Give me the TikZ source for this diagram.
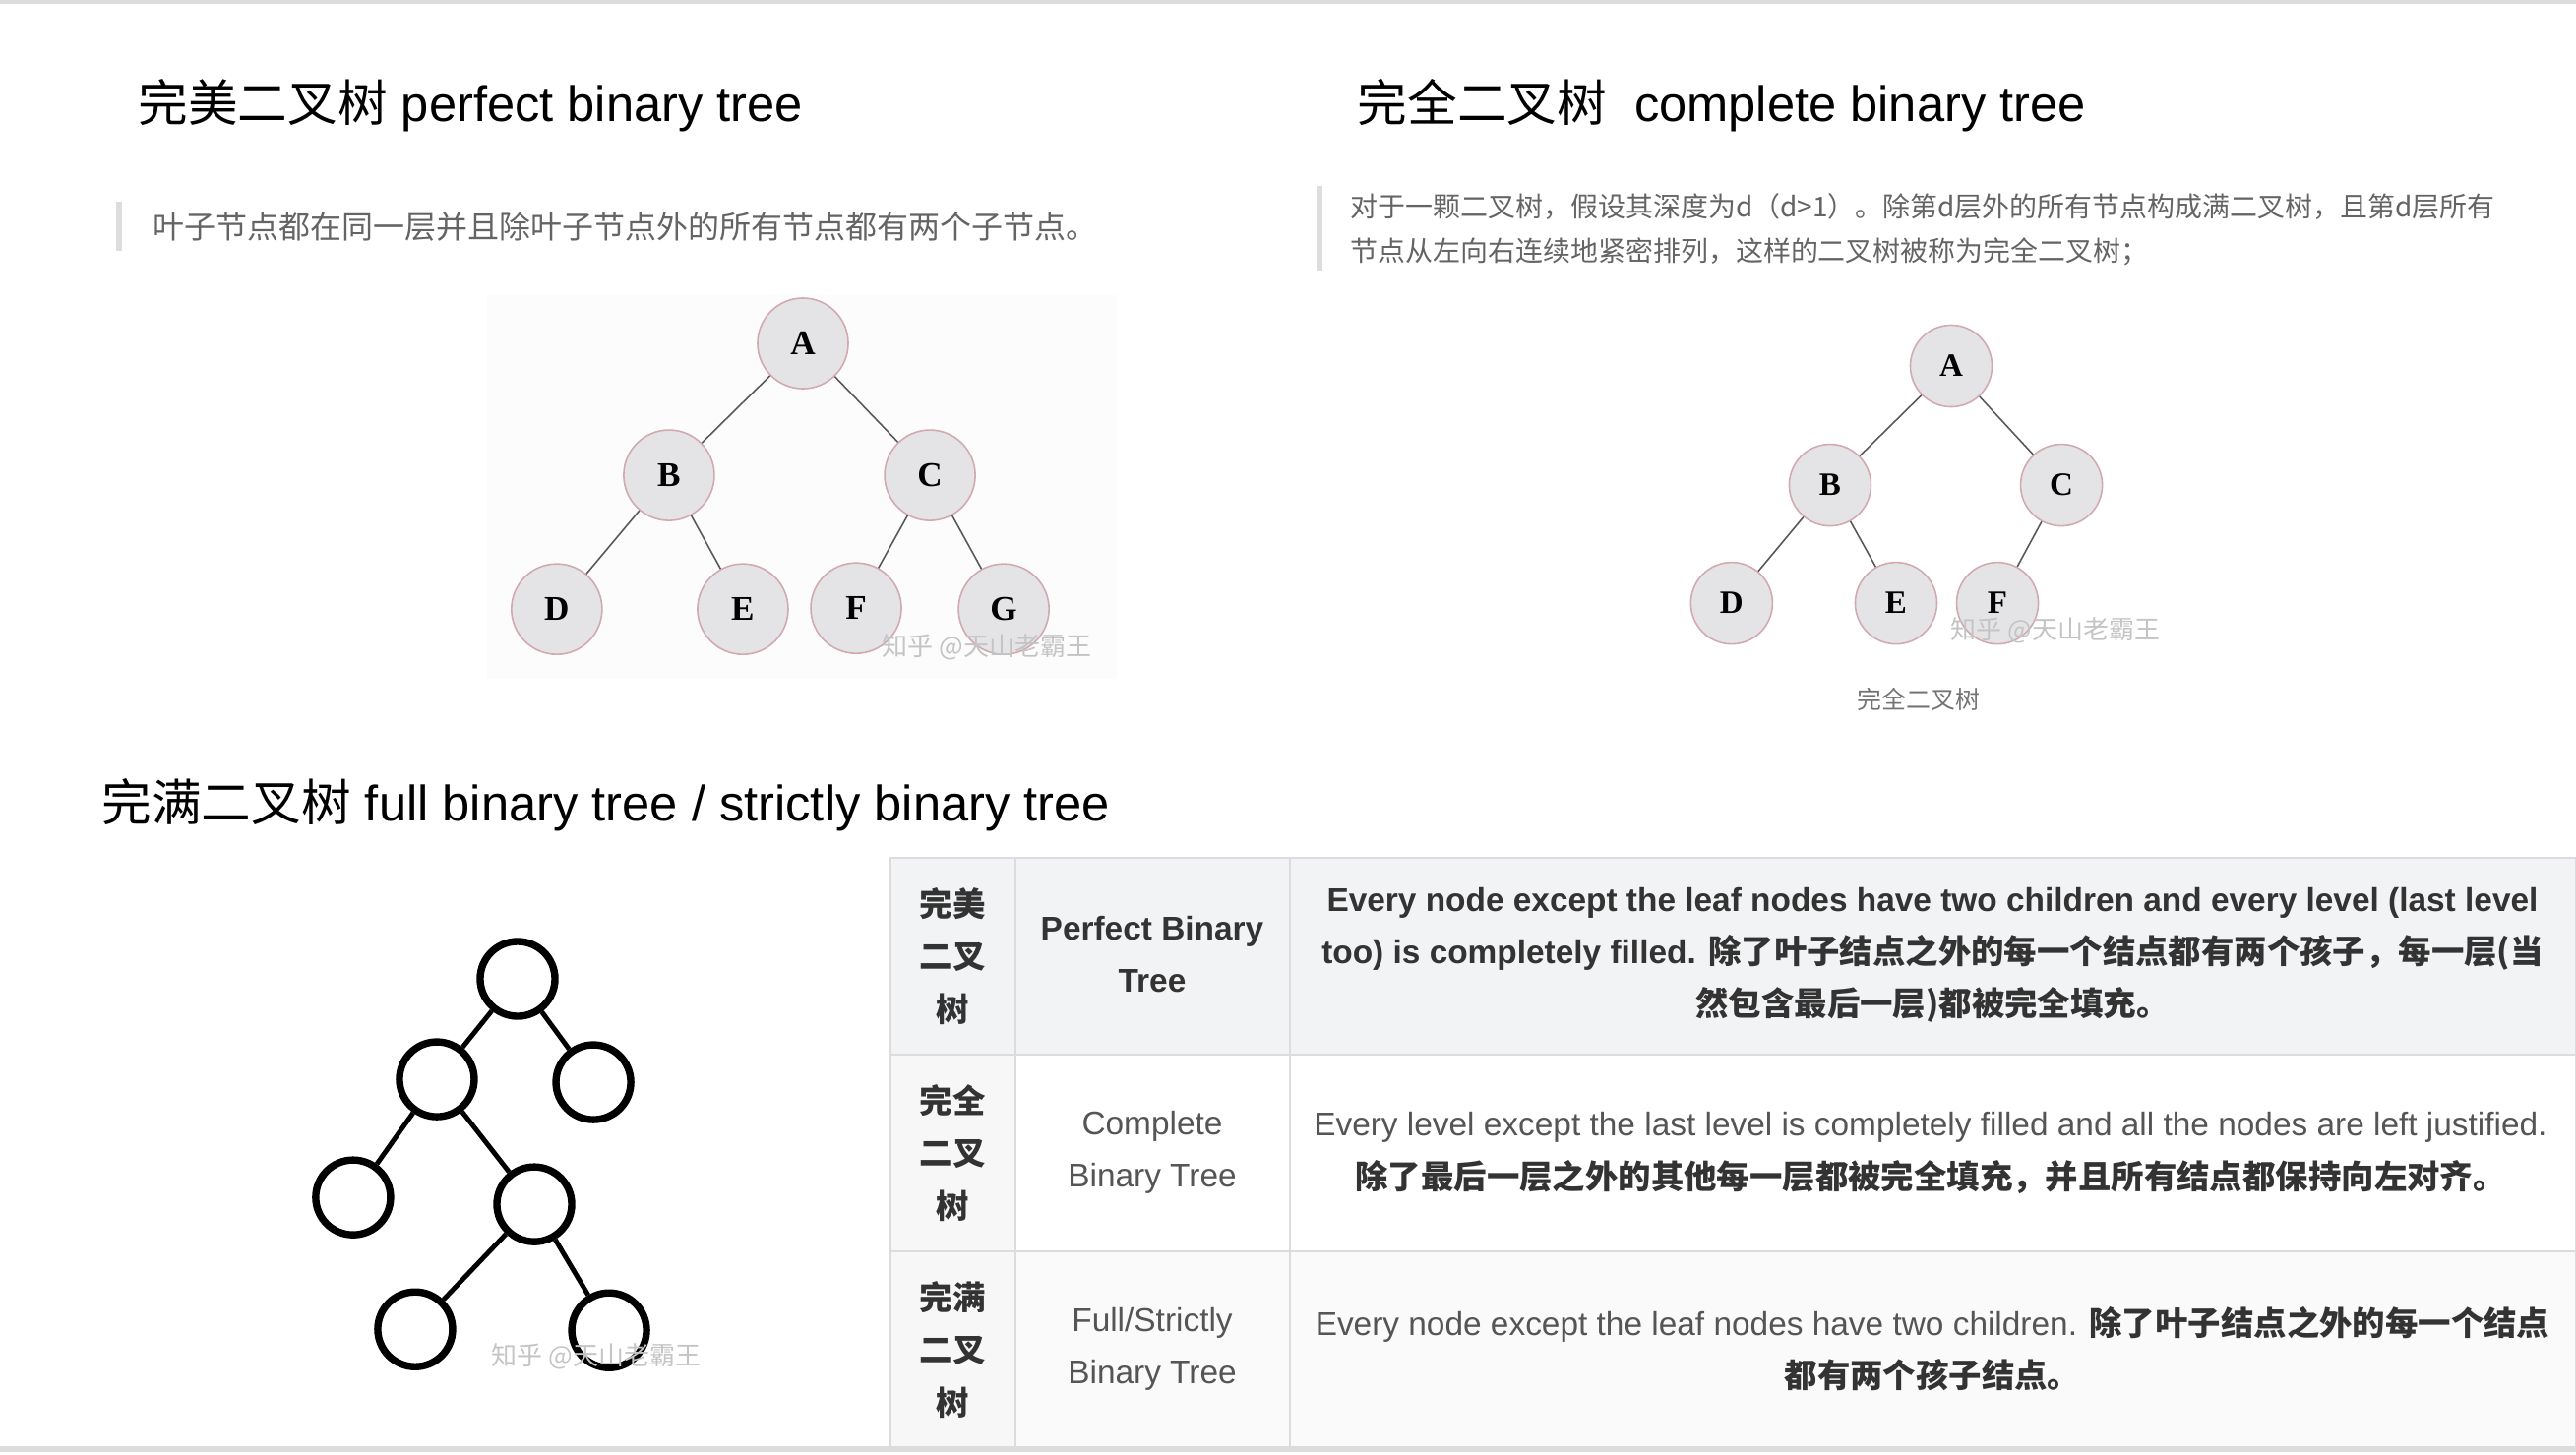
\documentclass[tikz,border=0pt]{standalone}
\usepackage{fontspec}
\usepackage{xcolor}
\setmainfont{Liberation Sans}
\newfontfamily\cjk{Noto Sans CJK SC}
\newfontfamily\treefont{Liberation Serif}
\usetikzlibrary{positioning}

\newcommand{\zh}[1]{{\cjk #1}}

\definecolor{rulegray}{HTML}{DCDCDE}
\definecolor{cellgray}{HTML}{F2F3F5}
\definecolor{cellpale}{HTML}{F7F7F8}
\definecolor{rowpale}{HTML}{FAFAFA}
\definecolor{quotegray}{HTML}{646464}
\definecolor{bargray}{HTML}{DDDDDD}
\definecolor{inkdark}{HTML}{333333}
\definecolor{inkmid}{HTML}{555555}
\definecolor{nodefill}{HTML}{E4E4E6}
\definecolor{nodeedge}{HTML}{D3A9B0}
\definecolor{markgray}{HTML}{C4C4C4}

\begin{document}
\begin{tikzpicture}[x=0.01cm, y=-0.01cm, on grid,
    ball/.style={circle, draw=nodeedge, fill=nodefill, line width=0.45pt, minimum size=0.92cm, inner sep=0pt,
        font=\treefont\bfseries\fontsize{10}{12}\selectfont},
    smallball/.style={ball, minimum size=0.83cm, font=\treefont\bfseries\fontsize{9.4}{11}\selectfont},
    ring/.style={circle, draw=black, line width=2.1pt, minimum size=0.76cm, inner sep=0pt},
    twig/.style={draw=black!65, line width=0.45pt},
    stick/.style={draw=black, line width=1.4pt},
    heading/.style={anchor=base west, inner sep=0pt, font=\fontsize{14.4}{17}\selectfont},
    quote/.style={anchor=base west, inner sep=0pt, text=quotegray, align=left, font=\fontsize{9.1}{12.8}\selectfont},
    smallquote/.style={quote, font=\fontsize{7.95}{12.8}\selectfont},
    watermark/.style={inner sep=0pt, text=markgray, font=\fontsize{7.4}{9}\selectfont},
    cell/.style={inner sep=0pt, align=center, text=inkmid, font=\fontsize{9.5}{15.1}\selectfont},
    boldcell/.style={cell, text=inkdark, font=\fontsize{9.5}{15.1}\selectfont\bfseries}]
\useasboundingbox (0,0) rectangle (2618,1478);
\fill[rulegray] (0,0) rectangle (2618,4);
\fill[rulegray] (0,1470) rectangle (2618,1476);

\node[heading] (title1) at (140,123) {\zh{完美二叉树} perfect binary tree};
\node[heading] (title2) at (1379,123) {\zh{完全二叉树}\ \ complete binary tree};
\node[heading] (title3) at (103,834) {\zh{完满二叉树} full binary tree / strictly binary tree};

\fill[bargray] (118,205) rectangle (124,255);
\node[quote] (quote1) at (155,242) {\zh{叶子节点都在同一层并且除叶子节点外的所有节点都有两个子节点。}};
\fill[bargray] (1338,189) rectangle (1344,275);
\node[smallquote] (quote2) at (1372,220) {\zh{对于一颗二叉树，假设其深度为d（d>1）。除第d层外的所有节点构成满二叉树，且第d层所有}};
\node[smallquote] (quote3) at (1372,265) {\zh{节点从左向右连续地紧密排列，这样的二叉树被称为完全二叉树；}};

\fill[black!1] (495,300) rectangle (1135,690);
\node[ball] (A1) at (816,349) {A};
\node[ball] (B1) [below left=1.34cm and 1.36cm of A1] {B};
\node[ball] (C1) [below right=1.34cm and 1.29cm of A1] {C};
\node[ball] (D1) [below left=1.36cm and 1.14cm of B1] {D};
\node[ball] (E1) [below right=1.36cm and 0.75cm of B1] {E};
\node[ball] (F1) [below left=1.35cm and 0.75cm of C1] {F};
\node[ball] (G1) [below right=1.36cm and 0.75cm of C1] {G};
\path[twig]
    (A1) edge (B1)
    (A1) edge (C1)
    (B1) edge (D1)
    (B1) edge (E1)
    (C1) edge (F1)
    (C1) edge (G1);
\node[watermark] (mark1) at (1003,658) {\zh{知乎 @天山老霸王}};

\node[smallball] (A2) at (1983,372) {A};
\node[smallball] (B2) [below left=1.21cm and 1.23cm of A2] {B};
\node[smallball] (C2) [below right=1.21cm and 1.12cm of A2] {C};
\node[smallball] (D2) [below left=1.2cm and 1cm of B2] {D};
\node[smallball] (E2) [below right=1.2cm and 0.67cm of B2] {E};
\node[smallball] (F2) [below left=1.2cm and 0.65cm of C2] {F};
\path[twig]
    (A2) edge (B2)
    (A2) edge (C2)
    (B2) edge (D2)
    (B2) edge (E2)
    (C2) edge (F2);
\node[watermark] (mark2) at (2089,641) {\zh{知乎 @天山老霸王}};
\node[inner sep=0pt, text=black!55, font=\fontsize{7.1}{9}\selectfont] (caption2) at (1950,711) {\zh{完全二叉树}};

\node[ring] (root) at (526,995) {};
\node[ring] (l) [below left=1.02cm and 0.82cm of root] {};
\node[ring] (r) [below right=1.05cm and 0.77cm of root] {};
\node[ring] (ll) [below left=1.2cm and 0.85cm of l] {};
\node[ring] (lr) [below right=1.27cm and 0.99cm of l] {};
\node[ring] (lrl) [below left=1.27cm and 1.21cm of lr] {};
\node[ring] (lrr) [below right=1.28cm and 0.76cm of lr] {};
\path[stick]
    (root) edge (l)
    (root) edge (r)
    (l) edge (ll)
    (l) edge (lr)
    (lr) edge (lrl)
    (lr) edge (lrr);
\node[watermark] (mark3) at (606,1379) {\zh{知乎 @天山老霸王}};

\fill[cellgray] (905,872) rectangle (2618,1072);
\fill[cellpale] (905,1072) rectangle (1032,1471);
\fill[rowpale] (1032,1272) rectangle (2618,1471);
\draw[rulegray, line width=0.8pt] (905,872) rectangle (2618,1471);
\draw[rulegray, line width=0.8pt] (905,1072) -- (2618,1072) (905,1272) -- (2618,1272);
\draw[rulegray, line width=0.8pt] (1032,872) -- (1032,1471) (1311,872) -- (1311,1471);

\node[boldcell] (k1) at (968,972) {\zh{完美}\\\zh{二叉}\\\zh{树}};
\node[boldcell] (n1) at (1171,970) {Perfect Binary\\Tree};
\node[boldcell] (d1) at (1964,971) {Every node except the leaf nodes have two children and every level (last level\\
    too) is completely filled. \zh{除了叶子结点之外的每一个结点都有两个孩子，每一层(当}\\
    \zh{然包含最后一层)都被完全填充。}};

\node[boldcell] (k2) at (968,1172) {\zh{完全}\\\zh{二叉}\\\zh{树}};
\node[cell] (n2) at (1171,1171) {Complete\\Binary Tree};
\node[cell] (d2) at (1962,1172) {Every level except the last level is completely filled and all the nodes are left justified.\\
    {\bfseries\color{inkdark}\zh{除了最后一层之外的其他每一层都被完全填充，并且所有结点都保持向左对齐。}}};

\node[boldcell] (k3) at (968,1372) {\zh{完满}\\\zh{二叉}\\\zh{树}};
\node[cell] (n3) at (1171,1371) {Full/Strictly\\Binary Tree};
\node[cell] (d3) at (1964,1371) {Every node except the leaf nodes have two children. {\bfseries\color{inkdark}\zh{除了叶子结点之外的每一个结点}}\\
    {\bfseries\color{inkdark}\zh{都有两个孩子结点。}}};
\end{tikzpicture}
\end{document}
